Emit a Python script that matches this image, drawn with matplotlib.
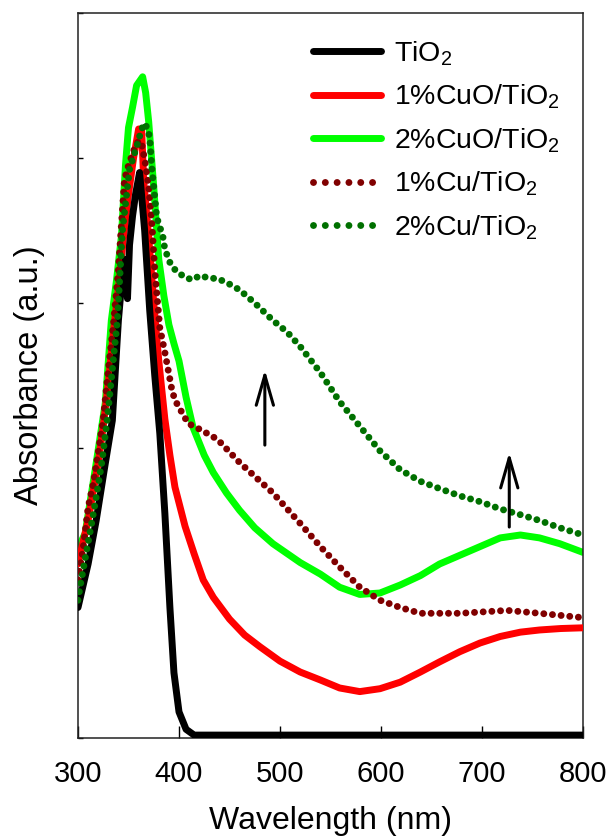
import matplotlib
matplotlib.use("Agg")
import matplotlib.pyplot as plt
from matplotlib.lines import Line2D

plt.rcParams['font.family'] = ['Liberation Sans', 'DejaVu Sans']
plt.rcParams['mathtext.default'] = 'regular'
plt.rcParams['mathtext.fontset'] = 'custom'
plt.rcParams['mathtext.rm'] = 'Liberation Sans'

labels = ['TiO$_2$', '1%CuO/TiO$_2$', '2%CuO/TiO$_2$', '1%Cu/TiO$_2$', '2%Cu/TiO$_2$']

tio2_wl = [300, 305, 310, 318, 326, 334, 340, 344, 347, 349, 351, 354, 357, 361, 366, 371,
           376, 381, 386, 391, 395, 400, 407, 415, 450, 500, 550, 600, 650, 700, 750, 800]
tio2_abs = [0.90, 1.05, 1.20, 1.50, 1.85, 2.19, 2.88, 3.20, 3.30, 3.03, 3.40, 3.60, 3.75, 3.90,
            3.50, 2.95, 2.50, 2.10, 1.55, 0.90, 0.45, 0.18, 0.06, 0.02, 0.02, 0.02, 0.02, 0.02,
            0.02, 0.02, 0.02, 0.02]

cuo1_wl = [300, 305, 310, 315, 320, 325, 330, 335, 340, 345, 350, 355, 360, 363, 365, 370, 375,
           380, 386, 391, 396, 406, 415, 424, 434, 450, 465, 480, 500, 520, 540, 559, 579, 599,
           619, 639, 658, 678, 698, 718, 738, 757, 778, 800]
cuo1_abs = [1.20, 1.35, 1.50, 1.70, 1.90, 2.15, 2.45, 2.80, 3.10, 3.45, 3.75, 4.00, 4.20, 4.20,
            3.85, 3.45, 3.00, 2.60, 2.20, 1.95, 1.73, 1.46, 1.27, 1.09, 0.97, 0.82, 0.71, 0.63,
            0.53, 0.455, 0.40, 0.345, 0.32, 0.34, 0.385, 0.455, 0.525, 0.595, 0.655, 0.70, 0.73,
            0.745, 0.755, 0.76]

cuo2_wl = [300, 307, 317, 327, 333, 338, 343, 347, 350, 354, 358, 364, 367, 370, 375, 380, 385,
           390, 395, 400, 407, 414, 425, 434, 447, 460, 475, 493, 520, 540, 559, 579, 599, 619,
           639, 658, 678, 698, 718, 738, 757, 777, 800]
cuo2_abs = [1.31, 1.41, 1.85, 2.31, 2.88, 3.15, 3.46, 3.95, 4.21, 4.35, 4.50, 4.56, 4.45, 4.25,
            3.80, 3.30, 3.05, 2.85, 2.72, 2.60, 2.35, 2.14, 1.95, 1.83, 1.69, 1.57, 1.45, 1.34,
            1.21, 1.13, 1.04, 0.99, 1.00, 1.055, 1.12, 1.20, 1.26, 1.32, 1.38, 1.40, 1.38, 1.34,
            1.28]

cu1_wl = [300, 305, 310, 315, 320, 325, 330, 335, 340, 346, 350, 355, 360, 363, 367, 370, 373,
          376, 381, 386, 393, 396, 409, 423, 438, 460, 493, 520, 540, 559, 579, 599, 619, 639,
          678, 725, 757, 800]
cu1_abs = [1.09, 1.30, 1.59, 1.75, 1.97, 2.20, 2.54, 2.85, 3.23, 3.85, 3.95, 4.05, 4.12, 4.10,
           3.95, 3.80, 3.57, 3.23, 2.83, 2.66, 2.40, 2.33, 2.17, 2.12, 2.06, 1.90, 1.69, 1.48,
           1.32, 1.18, 1.04, 0.95, 0.90, 0.86, 0.86, 0.88, 0.86, 0.83]

cu2_wl = [300, 302, 308, 314, 319, 324, 329, 334, 339, 344, 351, 359, 363, 366, 369, 371, 373,
          378, 384, 386, 391, 396, 405, 413, 421, 430, 438, 450, 460, 475, 493, 507, 520, 540,
          559, 579, 599, 619, 639, 658, 678, 698, 718, 738, 757, 777, 800]
cu2_abs = [0.95, 1.04, 1.27, 1.50, 1.70, 1.92, 2.20, 2.54, 2.88, 3.50, 3.92, 4.10, 4.20, 4.24,
           4.20, 4.14, 3.94, 3.59, 3.46, 3.37, 3.28, 3.23, 3.18, 3.16, 3.19, 3.17, 3.17, 3.13,
           3.09, 3.00, 2.88, 2.80, 2.70, 2.52, 2.32, 2.15, 1.98, 1.85, 1.77, 1.72, 1.67, 1.63,
           1.58, 1.54, 1.50, 1.45, 1.40]

arrow_x = [485, 727]
arrow_tail = [2.02, 1.455]
arrow_head = [2.54, 1.97]

fig = plt.figure(figsize=(6.09, 8.39), dpi=100)
ax = fig.add_axes([78/609, 101/839, 505/609, 725/839])

lw = 5.0
ax.plot(cuo2_wl, cuo2_abs, color='#00ff00', lw=lw, solid_capstyle='round',
        solid_joinstyle='round', zorder=2)
ax.plot(cuo1_wl, cuo1_abs, color='#ff0000', lw=lw, solid_capstyle='round',
        solid_joinstyle='round', zorder=3)
ax.plot(tio2_wl, tio2_abs, color='black', lw=lw, solid_capstyle='round',
        solid_joinstyle='round', zorder=4)
ax.plot(cu1_wl, cu1_abs, color='#800000', lw=lw, linestyle=(0, (0.001, 1.25)),
        dash_capstyle='round', zorder=5)
ax.plot(cu2_wl, cu2_abs, color='#007000', lw=lw, linestyle=(0, (0.001, 1.25)),
        dash_capstyle='round', zorder=6)

for x, t, h in zip(arrow_x, arrow_tail, arrow_head):
    ax.annotate('', xy=(x, h), xytext=(x, t),
                arrowprops=dict(arrowstyle='->,head_length=1.08,head_width=0.31',
                                lw=2.2, color='black', shrinkA=0, shrinkB=0,
                                mutation_scale=20), zorder=7)

ax.set_xlim(300, 800)
ax.set_ylim(0, 5)
ax.set_xticks([300, 400, 500, 600, 700, 800])
ax.set_yticks([0, 1, 2, 3, 4, 5])
ax.set_yticklabels([])
ax.tick_params(axis='x', direction='in', length=9, width=1, labelsize=21, pad=16)
ax.tick_params(axis='y', direction='in', length=3.5, width=1)
for s in ax.spines.values():
    s.set_linewidth(1.1)
    s.set_color('#222222')
ax.set_xlabel('Wavelength (nm)', fontsize=23, labelpad=13)
ax.set_ylabel('Absorbance (a.u.)', fontsize=23.5, labelpad=20)

handles = [
    Line2D([], [], color='black', lw=lw, solid_capstyle='round'),
    Line2D([], [], color='#ff0000', lw=lw, solid_capstyle='round'),
    Line2D([], [], color='#00ff00', lw=lw, solid_capstyle='round'),
    Line2D([], [], color='#800000', lw=lw, linestyle=(0, (0.001, 1.7)), dash_capstyle='round'),
    Line2D([], [], color='#007000', lw=lw, linestyle=(0, (0.001, 1.7)), dash_capstyle='round'),
]
ax.legend(handles, labels, loc='upper left', bbox_to_anchor=((313 - 78) / 505, (738 - 39) / 725),
          frameon=False, fontsize=20.5, handlelength=2.4, handletextpad=0.45,
          labelspacing=0.53, borderpad=0, borderaxespad=0)

fig.savefig('out.png', dpi=100)
